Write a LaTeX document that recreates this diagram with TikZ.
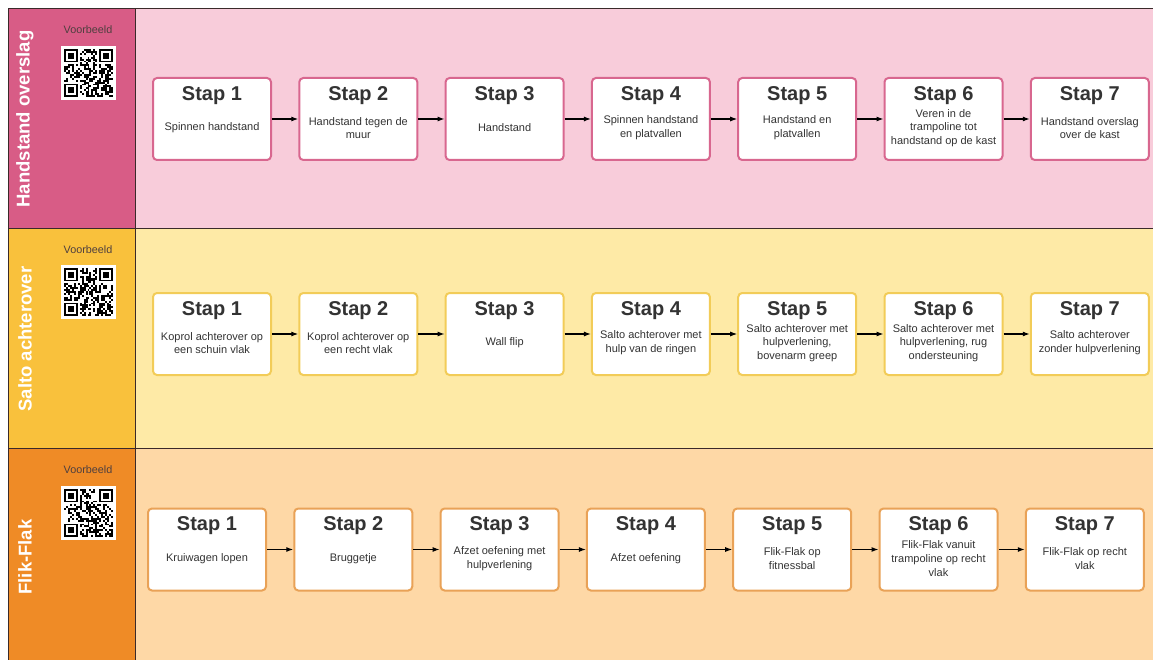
\documentclass[tikz,border=0pt]{standalone}
\usepackage{fontspec}
\setmainfont{Liberation Sans}
\usetikzlibrary{arrows.meta}

\definecolor{hoHead}{HTML}{D85C86}
\definecolor{hoBody}{HTML}{F8CCDA}
\definecolor{hoLine}{HTML}{D8678F}
\definecolor{saHead}{HTML}{F9C13C}
\definecolor{saBody}{HTML}{FEEAA6}
\definecolor{saLine}{HTML}{F2CC58}
\definecolor{ffHead}{HTML}{EF8B26}
\definecolor{ffBody}{HTML}{FED8A6}
\definecolor{ffLine}{HTML}{E9A257}
\definecolor{textgray}{HTML}{333333}
\definecolor{framegray}{HTML}{3A2A2A}

\tikzset{
  stapbox/.style={draw=#1, line width=2pt, fill=white, rounded corners=4pt,
    minimum width=118pt, minimum height=82pt, inner sep=0pt},
  staptitle/.style={font=\fontsize{20}{24}\selectfont\bfseries, text=textgray},
  stapbody/.style={font=\fontsize{11}{13.8}\selectfont, text=textgray, align=center},
  lanetitle/.style={rotate=90, font=\fontsize{18.5}{22}\selectfont\bfseries, text=white},
  voorbeeld/.style={font=\fontsize{10.8}{12}\selectfont, text=framegray!90},
  flow/.style={-{Latex[length=7pt,width=5pt]}, line width=1.1pt},
  frame/.style={draw=framegray, line width=1pt},
}

% nep QR-code, linksboven op (#1,#2)
\newcommand{\qrpatch}[2]{%
  \fill[white] (#1,#2) rectangle ++(55,54);
  \foreach \i in {0,...,24}{\foreach \j in {0,...,24}{%
    \pgfmathrandominteger{\bit}{0}{1}%
    \ifnum\bit=1 \fill[black] ({#1+3+\i*1.96},{#2+3+\j*1.92}) rectangle ++(1.96,1.92);\fi}}
  \foreach \dx/\dy in {0/0,18/0,0/18}{%
    \fill[white] ({#1+3+(\dx-1)*1.96},{#2+3+(\dy-1)*1.92}) rectangle ++(9*1.96,9*1.92);
    \fill[black] ({#1+3+\dx*1.96},{#2+3+\dy*1.92}) rectangle ++(7*1.96,7*1.92);
    \fill[white] ({#1+3+(\dx+1)*1.96},{#2+3+(\dy+1)*1.92}) rectangle ++(5*1.96,5*1.92);
    \fill[black] ({#1+3+(\dx+2)*1.96},{#2+3+(\dy+2)*1.92}) rectangle ++(3*1.96,3*1.92);}
}

\begin{document}
\begin{tikzpicture}[x=1pt, y=-1pt]
  \pgfmathsetseed{11}
  \useasboundingbox (0,0) rectangle (1153,660);
  \clip (0,0) rectangle (1153,660);
  \fill[white] (0,0) rectangle (1153,660);

  % banen
  \fill[hoHead] (8,9) rectangle (135,229);
  \fill[hoBody] (135,9) rectangle (1160,229);
  \fill[saHead] (8,229) rectangle (135,448);
  \fill[saBody] (135,229) rectangle (1160,448);
  \fill[ffHead] (8,448) rectangle (135,670);
  \fill[ffBody] (135,448) rectangle (1160,670);
  \draw[frame] (8,670) -- (8,9) -- (1160,9);
  \draw[frame] (135,9) -- (135,670);
  \draw[frame] (8,229) -- (1160,229);
  \draw[frame] (8,448) -- (1160,448);

  \node[lanetitle] (lt1) at (25,119) {Handstand overslag};
  \node[lanetitle] (lt2) at (25,339) {Salto achterover};
  \node[lanetitle] (lt3) at (25,557) {Flik-Flak};

  \node[voorbeeld] (v1) at (88,30) {Voorbeeld};
  \node[voorbeeld] (v2) at (88,250) {Voorbeeld};
  \node[voorbeeld] (v3) at (88,470) {Voorbeeld};
  \qrpatch{61}{46}
  \qrpatch{61}{265}
  \qrpatch{61}{486}

  % Handstand overslag
  \foreach \n/\txt in {1/{Spinnen handstand}, 2/{Handstand tegen de\\muur},
      3/{Handstand}, 4/{Spinnen handstand\\en platvallen}, 5/{Handstand en\\platvallen},
      6/{Veren in de\\trampoline tot\\handstand op de kast}, 7/{Handstand overslag\\over de kast}}{
    \node[stapbox=hoLine] (h\n) at ({212+(\n-1)*146.3},119) {};
    \node[staptitle] (ht\n) at ([yshift=-18.5pt]h\n.north) {Stap \n};
    \node[stapbody] (hb\n) at ([yshift=-9pt]h\n.center) {\txt};
  }

  % Salto achterover
  \foreach \n/\txt in {1/{Koprol achterover op\\een schuin vlak}, 2/{Koprol achterover op\\een recht vlak},
      3/{Wall flip}, 4/{Salto achterover met\\hulp van de ringen},
      5/{Salto achterover met\\hulpverlening,\\bovenarm greep},
      6/{Salto achterover met\\hulpverlening, rug\\ondersteuning}, 7/{Salto achterover\\zonder hulpverlening}}{
    \node[stapbox=saLine] (s\n) at ({212+(\n-1)*146.3},334) {};
    \node[staptitle] (st\n) at ([yshift=-18.5pt]s\n.north) {Stap \n};
    \node[stapbody] (sb\n) at ([yshift=-9pt]s\n.center) {\txt};
  }

  % Flik-Flak
  \foreach \n/\txt in {1/{Kruiwagen lopen}, 2/{Bruggetje},
      3/{Afzet oefening met\\hulpverlening}, 4/{Afzet oefening}, 5/{Flik-Flak op\\fitnessbal},
      6/{Flik-Flak vanuit\\trampoline op recht\\vlak}, 7/{Flik-Flak op recht\\vlak}}{
    \node[stapbox=ffLine] (f\n) at ({207+(\n-1)*146.3},549.5) {};
    \node[staptitle] (ft\n) at ([yshift=-18.5pt]f\n.north) {Stap \n};
    \node[stapbody] (fb\n) at ([yshift=-9pt]f\n.center) {\txt};
  }

  \foreach \a/\b in {1/2,2/3,3/4,4/5,5/6,6/7}{
    \draw[flow] (h\a) -- (h\b);
    \draw[flow] (s\a) -- (s\b);
    \draw[flow] (f\a) -- (f\b);
  }
\end{tikzpicture}
\end{document}
